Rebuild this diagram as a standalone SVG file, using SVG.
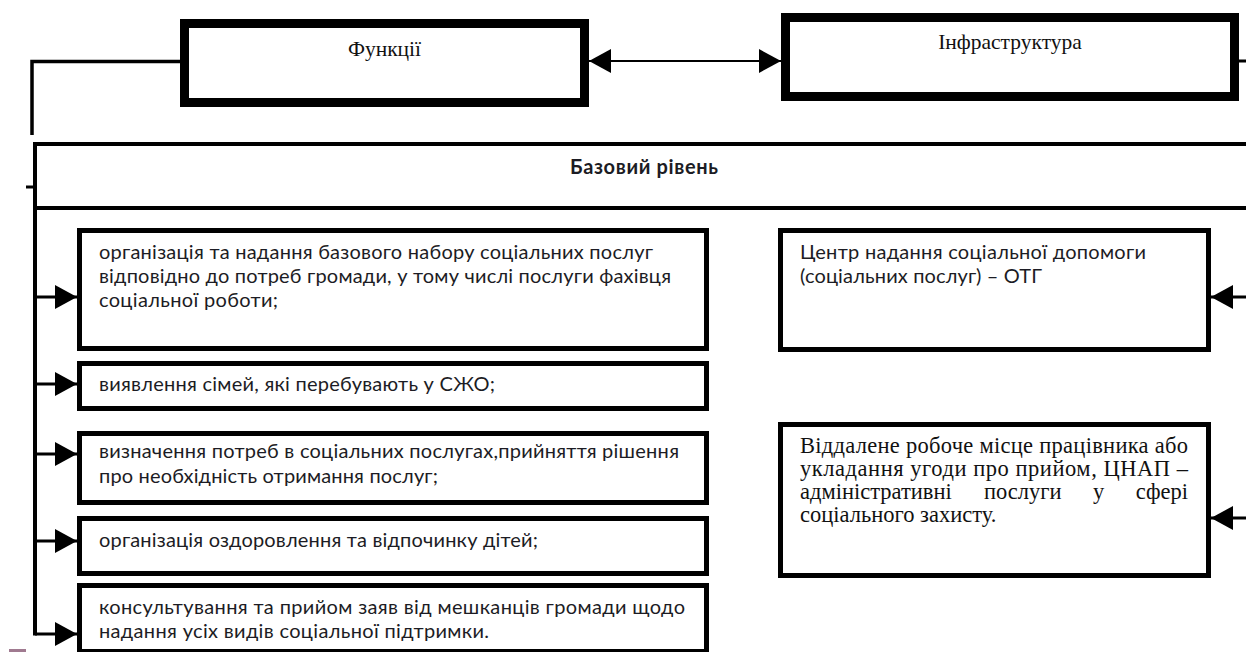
<svg xmlns="http://www.w3.org/2000/svg" width="1246" height="652" viewBox="0 0 1246 652">
<style>
.thick{fill:#fff;stroke:#000;stroke-width:9}
.box{fill:#fff;stroke:#000;stroke-width:5}
.base{fill:#fff;stroke:#000;stroke-width:4}
.ln{fill:none;stroke:#000;stroke-width:3}
.serif{font-family:"Liberation Serif","Times New Roman",serif;fill:#111}
.sans{font-family:Lato,"Open Sans","Liberation Sans",sans-serif;font-size:20px;fill:#1c1c24}
.ttl{font-size:21.5px;text-anchor:middle}
.body{font-size:22.5px}
</style>
<defs>
<marker id="ah" viewBox="0 0 22 24" refX="22" refY="12" markerWidth="22" markerHeight="24" markerUnits="userSpaceOnUse" orient="auto-start-reverse">
<path d="M0,0 L22,12 L0,24 Z" fill="#000"/>
</marker>
</defs>
<g id="connectors">
<polyline class="ln" points="182,61.5 32,61.5 32,135" style="stroke-width:3.5"/>
<line class="ln" x1="589" y1="61" x2="781" y2="61" style="stroke-width:2" marker-start="url(#ah)" marker-end="url(#ah)"/>
<line class="ln" x1="1239" y1="61" x2="1246" y2="61"/>
<line class="ln" x1="26" y1="187" x2="35" y2="187"/>
<line class="ln" x1="35" y1="208" x2="35" y2="635.5" style="stroke-width:4"/>
<line class="ln" x1="35" y1="297" x2="77" y2="297" marker-end="url(#ah)"/>
<line class="ln" x1="35" y1="384" x2="77" y2="384" marker-end="url(#ah)"/>
<line class="ln" x1="35" y1="454" x2="77" y2="454" marker-end="url(#ah)"/>
<line class="ln" x1="35" y1="541" x2="77" y2="541" marker-end="url(#ah)"/>
<line class="ln" x1="35" y1="634" x2="77" y2="634" marker-end="url(#ah)"/>
<line class="ln" x1="1246" y1="297" x2="1211" y2="297" marker-end="url(#ah)"/>
<line class="ln" x1="1246" y1="518" x2="1211" y2="518" marker-end="url(#ah)"/>
</g>
<g id="functions">
<rect class="thick" x="184.5" y="23.5" width="400" height="79"/>
<text class="serif ttl" x="384.5" y="56">Функції</text>
</g>
<g id="infrastructure">
<rect class="thick" x="785.5" y="17.5" width="449" height="79"/>
<text class="serif ttl" x="1010" y="49">Інфраструктура</text>
</g>
<g id="base-level">
<rect class="base" x="35" y="144" width="1300" height="64"/>
<text class="sans" x="644" y="174" text-anchor="middle" font-weight="bold" font-size="19" textLength="148">Базовий рівень</text>
</g>
<g id="f1">
<rect class="box" x="79.5" y="230.5" width="627" height="118"/>
<text class="sans" x="99" y="259" textLength="554">організація та надання базового набору соціальних послуг</text>
<text class="sans" x="99" y="283" textLength="572">відповідно до потреб громади, у тому числі послуги фахівця</text>
<text class="sans" x="99" y="307" textLength="179">соціальної роботи;</text>
</g>
<g id="f2">
<rect class="box" x="79.5" y="363.5" width="627" height="45"/>
<text class="sans" x="99" y="391" textLength="396">виявлення сімей, які перебувають у СЖО;</text>
</g>
<g id="f3">
<rect class="box" x="79.5" y="433.5" width="627" height="69"/>
<text class="sans" x="99" y="458" textLength="580">визначення потреб в соціальних послугах,прийняття рішення</text>
<text class="sans" x="99" y="483" textLength="339">про необхідність отримання послуг;</text>
</g>
<g id="f4">
<rect class="box" x="79.5" y="518.5" width="627" height="55"/>
<text class="sans" x="99" y="547" textLength="439">організація оздоровлення та відпочинку дітей;</text>
</g>
<g id="f5">
<rect class="box" x="79.5" y="585.5" width="627" height="66"/>
<text class="sans" x="99" y="614" textLength="586">консультування та прийом заяв від мешканців громади щодо</text>
<text class="sans" x="99" y="638" textLength="390">надання усіх видів соціальної підтримки.</text>
</g>
<g id="i1">
<rect class="box" x="780.5" y="230.5" width="428" height="119"/>
<text class="sans" x="800" y="259" textLength="346">Центр надання соціальної допомоги</text>
<text class="sans" x="800" y="283" textLength="242">(соціальних послуг) – ОТГ</text>
</g>
<g id="i2">
<rect class="box" x="780.5" y="424.5" width="428" height="151"/>
<text class="serif body" x="800" y="453" textLength="388">Віддалене робоче місце працівника або</text>
<text class="serif body" x="800" y="476" textLength="388">укладання угоди про прийом, ЦНАП –</text>
<text class="serif body" y="499"><tspan x="800">адміністративні</tspan><tspan x="984">послуги</tspan><tspan x="1093">у</tspan></text>
<text class="serif body" x="1188" y="499" text-anchor="end">сфері</text>
<text class="serif body" x="800" y="522">соціального захисту.</text>
</g>
<rect x="9" y="649" width="17" height="3" fill="#a07a90"/>
</svg>
